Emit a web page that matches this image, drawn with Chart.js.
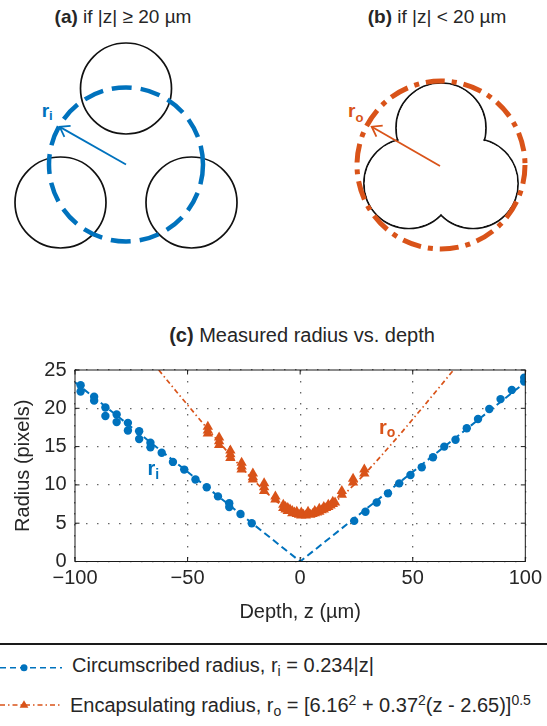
<!DOCTYPE html>
<html>
<head>
<meta charset="utf-8">
<title>Measured radius vs. depth</title>
<script src="https://cdn.jsdelivr.net/npm/chart.js@4.4.1/dist/chart.umd.min.js"></script>
<style>
  html, body { margin: 0; padding: 0; background: #fff; }
  body { width: 547px; height: 726px; position: relative; overflow: hidden;
         font-family: "Liberation Sans", Arial, Helvetica, sans-serif; color: #262626; }
  .abs { position: absolute; }
  .ttl { white-space: nowrap; transform: translateX(-50%); }
  #caja { position: absolute; left: 0; top: 320px; width: 547px; height: 310px; }
  #sep { position: absolute; left: 0; top: 642.5px; width: 547px; height: 2.5px; background: #1a1a1a; }
  .leg { position: absolute; left: 72px; font-size: 20px; line-height: 24px; white-space: nowrap; }
  .leg sub, .leg sup { font-size: 14px; line-height: 0; }
  .leg sub { vertical-align: -4px; }
  .leg sup { vertical-align: 7px; }
</style>
</head>
<body>

<svg class="abs" style="left:0;top:0" width="547" height="300">
  <!-- (a) three separate cells -->
  <g fill="none" stroke="#111" stroke-width="1.7">
    <circle cx="126" cy="88.5" r="45.5"/>
    <circle cx="60.5" cy="202.5" r="45.5"/>
    <circle cx="191.5" cy="202.5" r="45.5"/>
  </g>
  <circle cx="126" cy="164.5" r="77" fill="none" stroke="#0072BD" stroke-width="4.5" stroke-dasharray="20 9"/>
  <g stroke="#0072BD" stroke-width="1.8" fill="none">
    <line x1="126" y1="164.5" x2="59.7" y2="126.9"/>
    <polyline points="64.4,136.8 59.7,126.9 70.6,125.9"/>
  </g>
  <text x="41.7" y="116.7" font-family="Liberation Sans" font-weight="bold" font-size="19" fill="#0072BD">r<tspan font-size="13" dy="3.5">i</tspan></text>

  <!-- (b) overlapping cells -->
  <g fill="none" stroke="#111" stroke-width="1.7">
    <circle cx="441" cy="128" r="45"/>
    <circle cx="408.9" cy="183.5" r="45"/>
    <circle cx="473.1" cy="183.5" r="45"/>
  </g>
  <g fill="#fff" stroke="none">
    <circle cx="441" cy="128" r="44.1"/>
    <circle cx="408.9" cy="183.5" r="44.1"/>
    <circle cx="473.1" cy="183.5" r="44.1"/>
  </g>
  <circle cx="441" cy="165" r="84" fill="none" stroke="#D95319" stroke-width="5" stroke-dasharray="19 7 5 7"/>
  <g stroke="#D95319" stroke-width="1.8" fill="none">
    <line x1="440" y1="166" x2="371.7" y2="126.7"/>
    <polyline points="376.4,136.7 371.7,126.7 382.7,125.7"/>
  </g>
  <text x="348" y="117" font-family="Liberation Sans" font-weight="bold" font-size="19" fill="#D95319">r<tspan font-size="13" dy="5">o</tspan></text>
</svg>

<div class="abs ttl" style="left:123px; top:6px; font-size:19px; line-height:22px"><b>(a)</b> if |z| ≥ 20 µm</div>
<div class="abs ttl" style="left:437px; top:6px; font-size:19px; line-height:22px"><b>(b)</b> if |z| &lt; 20 µm</div>
<div class="abs ttl" style="left:302px; top:323px; font-size:20px; line-height:24px"><b>(c)</b> Measured radius vs. depth</div>

<div id="caja"><canvas id="grafico"></canvas></div>

<div id="sep"></div>
<svg class="abs" style="left:0;top:650px" width="70" height="70">
  <line x1="0" y1="17.7" x2="62" y2="17.7" stroke="#0072BD" stroke-width="1.6" stroke-dasharray="6 4"/>
  <circle cx="24" cy="17.7" r="3.5" fill="#0072BD"/>
  <line x1="0" y1="55" x2="62" y2="55" stroke="#D95319" stroke-width="1.6" stroke-dasharray="5 3 1.5 3"/>
  <polygon points="24,50.3 28.4,57.8 19.6,57.8" fill="#D95319"/>
</svg>
<div class="leg" style="top:652.8px">Circumscribed radius, r<sub>i</sub> = 0.234|z|</div>
<div class="leg" style="top:692.8px; left:70px">Encapsulating radius, r<sub>o</sub> = [6.16<sup>2</sup> + 0.37<sup>2</sup>(z - 2.65)]<sup>0.5</sup></div>

<script>
// measured circumscribed radius (blue dots)
const zInner = [-97.5, -97.5, -91.5, -91.5, -86.5, -86.5, -81.5, -81.5, -76.5, -76.5, -71.5, -71.5,
  -66.5, -66.5, -61.5, -56.5, -51.5, -46.5, -41.5, -36.5, -31.5, -31.5, -26.5, -21.5,
  24, 29, 34, 39, 44, 49, 54, 59, 64, 69, 74, 79, 84, 89, 94, 99.5, 99.5];
const rInner = [23.0, 22.2, 21.5, 21.0, 20.1, 19.0, 19.2, 18.2, 18.1, 17.1, 17.0, 16.0,
  15.5, 14.9, 14.2, 13.0, 12.0, 10.7, 9.7, 8.5, 7.6, 7.1, 6.2, 5.0,
  5.3, 6.5, 7.7, 8.9, 10.2, 11.3, 12.3, 13.6, 15.0, 15.9, 17.4, 18.6, 19.9, 21.2, 22.4, 23.5, 24.0];

// measured encapsulating radius (orange triangles)
const zOuter = [-41, -41, -41, -36, -36, -36, -31, -31, -31, -26, -26, -26, -21, -21, -21,
  -16, -16, -16, -11, -11,
  -7.5, -7.5, -6.5, -6.5, -5.5, -5.5, -4.5, -3.5, -3.5, -2.5, -1.5, -1.5, -0.5, 0.5, 0.5,
  1.5, 2.5, 3.5, 3.5, 4.5, 5.5, 6.5, 6.5, 7.5, 8.5, 8.5, 9.5, 10.5, 10.5, 11.5, 12.5, 12.5,
  13.5, 14.5, 14.5, 15.5,
  18.5, 18.5, 23.5, 23.5, 28.5, 28.5];
const rOuter = [17.6, 17.1, 16.7, 16.2, 15.7, 15.2, 14.5, 14.0, 13.5, 12.9, 12.4, 12.0, 11.5, 11.0, 10.7,
  10.2, 9.7, 9.2, 8.5, 8.1,
  7.4, 7.0, 7.1, 6.8, 7.0, 6.6, 6.8, 6.6, 6.3, 6.4, 6.2, 6.5, 6.1, 6.0, 6.4,
  6.1, 6.0, 6.2, 6.5, 6.1, 6.2, 6.3, 6.6, 6.4, 6.5, 6.9, 6.7, 6.8, 7.1, 7.0, 7.1, 7.4,
  7.3, 7.5, 7.8, 7.7,
  9.2, 8.7, 10.8, 10.3, 12.0, 11.5];

// fitted curves
const zFitInner = [-100, 0, 100];
const rFitInner = [23.4, 0, 23.4];
const zFitOuter = [-62.8, -55, -50, -45, -40, -35, -30, -25, -20, -15, -10, -5, 0, 2.65,
  5, 10, 15, 20, 25, 30, 35, 40, 45, 50, 55, 60, 65, 68.1];
const rFitOuter = [25, 22.2, 20.43, 18.67, 16.94, 15.23, 13.56, 11.94, 10.4, 8.97, 7.73, 6.78, 6.24, 6.16,
  6.22, 6.73, 7.67, 8.9, 10.31, 11.85, 13.46, 15.13, 16.83, 18.57, 20.32, 22.1, 23.88, 25];

const xTicks = [-100, -50, 0, 50, 100];
const yTicks = [0, 5, 10, 15, 20, 25];

const AZUL = '#0072BD';
const NARANJA = '#D95319';
const TEXTO = '#262626';
const FUENTE = '"Liberation Sans", Arial, sans-serif';

const pares = (xs, ys) => xs.map((x, i) => ({ x: x, y: ys[i] }));
const menos = v => (v < 0 ? '\u2212' + Math.abs(v) : String(v));

// box, inward tick marks and the r_i / r_o labels
const marco = {
  id: 'marco',
  afterDraw(chart) {
    const { ctx, chartArea: a, scales: { x, y } } = chart;
    ctx.save();
    ctx.strokeStyle = '#1a1a1a';
    ctx.lineWidth = 1;
    ctx.strokeRect(a.left, a.top, a.right - a.left, a.bottom - a.top);
    ctx.beginPath();
    xTicks.forEach(v => {
      const px = x.getPixelForValue(v);
      ctx.moveTo(px, a.bottom); ctx.lineTo(px, a.bottom - 4.5);
      ctx.moveTo(px, a.top); ctx.lineTo(px, a.top + 4.5);
    });
    yTicks.forEach(v => {
      const py = y.getPixelForValue(v);
      ctx.moveTo(a.left, py); ctx.lineTo(a.left + 4.5, py);
      ctx.moveTo(a.right, py); ctx.lineTo(a.right - 4.5, py);
    });
    ctx.stroke();

    const etiqueta = (txt, sub, zx, ry, color, bajar) => {
      const px = x.getPixelForValue(zx);
      const py = y.getPixelForValue(ry);
      ctx.fillStyle = color;
      ctx.textAlign = 'left';
      ctx.textBaseline = 'alphabetic';
      ctx.font = 'bold 20px ' + FUENTE;
      ctx.fillText(txt, px, py);
      const w = ctx.measureText(txt).width;
      ctx.font = 'bold 14px ' + FUENTE;
      ctx.fillText(sub, px + w, py + bajar);
    };
    etiqueta('r', 'i', -67.8, 11.3, AZUL, 4);
    etiqueta('r', 'o', 35.0, 16.6, NARANJA, 3);
    ctx.restore();
  }
};

new Chart(document.getElementById('grafico'), {
  type: 'scatter',
  data: {
    datasets: [
      {
        label: 'Circumscribed radius',
        data: pares(zInner, rInner),
        pointStyle: 'circle',
        pointRadius: 4.2,
        backgroundColor: AZUL,
        borderWidth: 0,
        order: 1
      },
      {
        label: 'Encapsulating radius',
        data: pares(zOuter, rOuter),
        pointStyle: 'triangle',
        pointRadius: 6,
        backgroundColor: NARANJA,
        borderWidth: 0,
        order: 2
      },
      {
        label: 'ri fit',
        data: pares(zFitInner, rFitInner),
        showLine: true,
        pointRadius: 0,
        borderColor: AZUL,
        borderWidth: 2,
        borderDash: [7, 4],
        order: 3
      },
      {
        label: 'ro fit',
        data: pares(zFitOuter, rFitOuter),
        showLine: true,
        pointRadius: 0,
        borderColor: NARANJA,
        borderWidth: 1.7,
        borderDash: [5, 3, 1.5, 3],
        tension: 0,
        order: 4
      }
    ]
  },
  options: {
    responsive: true,
    maintainAspectRatio: false,
    animation: false,
    events: [],
    layout: { padding: { top: 50, right: 17.5, left: 0, bottom: 0 } },
    plugins: { legend: { display: false }, tooltip: { enabled: false }, title: { display: false } },
    scales: {
      x: {
        type: 'linear',
        min: -100,
        max: 100,
        afterBuildTicks: s => { s.ticks = xTicks.map(v => ({ value: v })); },
        afterFit: s => { s.height = 68.5; },
        ticks: { font: { family: FUENTE, size: 20 }, color: TEXTO, padding: 5, maxRotation: 0, callback: menos },
        grid: { color: 'rgba(0,0,0,0.6)', lineWidth: 1.3, drawTicks: false },
        border: { display: false, dash: [1.5, 9.5] },
        title: { display: true, text: 'Depth, z (µm)', color: TEXTO,
                 font: { family: FUENTE, size: 20 }, padding: { top: 0, bottom: 6 } }
      },
      y: {
        type: 'linear',
        min: 0,
        max: 25,
        afterBuildTicks: s => { s.ticks = yTicks.map(v => ({ value: v })); },
        afterFit: s => { s.width = 75; },
        ticks: { font: { family: FUENTE, size: 20 }, color: TEXTO, padding: 8.5, callback: menos },
        grid: { color: 'rgba(0,0,0,0.6)', lineWidth: 1.3, drawTicks: false },
        border: { display: false, dash: [1.5, 9.5] },
        title: { display: true, text: 'Radius (pixels)', color: TEXTO,
                 font: { family: FUENTE, size: 20 }, padding: { top: 11, bottom: 0 } }
      }
    }
  },
  plugins: [marco]
});
</script>
</body>
</html>
